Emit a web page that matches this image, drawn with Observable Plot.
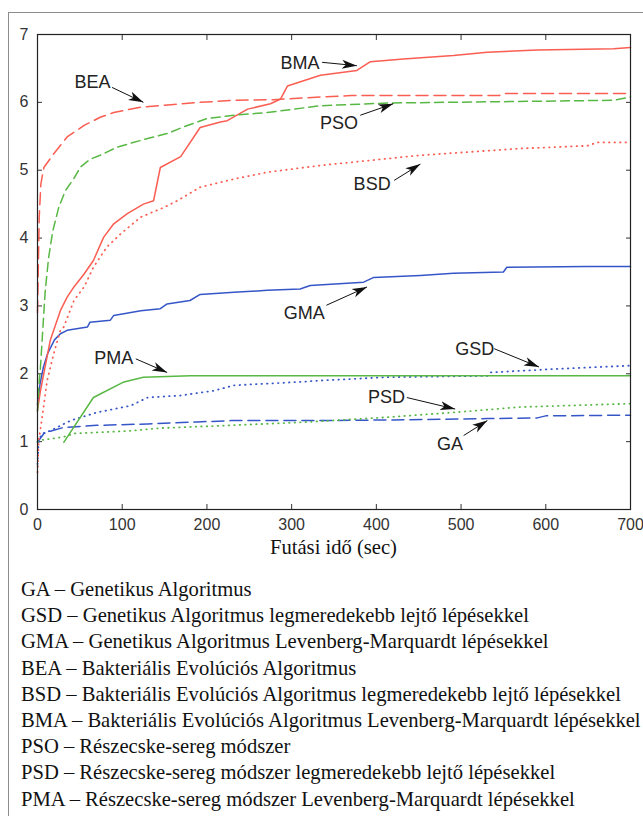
<!DOCTYPE html>
<html>
<head>
<meta charset="utf-8">
<script src="https://cdn.jsdelivr.net/npm/d3@7"></script>
<script src="https://cdn.jsdelivr.net/npm/@observablehq/plot@0.6"></script>
</head>
<body style="margin:0;padding:0;background:#fff;width:643px;height:816px;position:relative;overflow:hidden">
<div id="border" style="position:absolute;left:8px;top:12px;width:700px;height:900px;border:1.5px solid #8c8c8c;box-sizing:border-box"></div>
<div id="chart" style="position:absolute;left:0;top:0"></div>
<div id="xlabel" style="position:absolute;left:37px;width:593px;top:536px;text-align:center;font-family:'Liberation Serif';font-size:20.6px;color:#111"></div>
<div id="legend" style="position:absolute;left:21px;top:576px;font-family:'Liberation Serif';font-size:20.6px;line-height:26.2px;color:#111;white-space:nowrap"></div>
<script>
// ---- data (time in sec, value) ----
const GA  = [[0,0.99],[7.5,1.12],[17,1.16],[31,1.21],[70,1.24],[130,1.26],[189,1.29],[228,1.31],[334,1.31],[420,1.32],[531,1.34],[590,1.35],[600,1.38],[700,1.39]];
const GSD = [[0,0.67],[1.5,1.02],[5.5,1.12],[15,1.16],[39,1.31],[70,1.43],[110,1.53],[130,1.65],[169,1.68],[208,1.75],[232,1.83],[310,1.88],[334,1.9],[413,1.95],[531,1.97],[535,2.02],[610,2.07],[700,2.12]];
const GMA = [[0,1.55],[3,1.85],[7,2.1],[12,2.3],[20,2.5],[27,2.59],[35,2.64],[59,2.69],[62,2.76],[86,2.79],[90,2.86],[122,2.93],[145,2.96],[153,3.03],[180,3.08],[192,3.17],[232,3.2],[271,3.23],[310,3.25],[322,3.3],[385,3.35],[397,3.42],[452,3.45],[491,3.48],[550,3.5],[554,3.57],[649,3.58],[700,3.58]];
const BEA = [[0,2.9],[1,3.6],[2,4.3],[4,4.8],[7.5,5.04],[19,5.24],[35,5.49],[55,5.66],[74,5.78],[90,5.85],[122,5.93],[161,5.97],[192,6.0],[232,6.03],[279,6.04],[334,6.08],[370,6.1],[545,6.1],[550,6.13],[700,6.13]];
const BSD = [[0,0.55],[1.5,1.02],[5.5,1.36],[11.4,1.9],[19,2.29],[27,2.64],[31,2.69],[43,3.08],[55,3.28],[66,3.57],[82,3.87],[98,4.06],[122,4.31],[149,4.45],[165,4.55],[192,4.75],[232,4.87],[271,4.97],[334,5.07],[452,5.22],[570,5.32],[649,5.36],[661,5.41],[700,5.41]];
const BMA = [[0,1.46],[3.5,1.75],[15,2.49],[27,2.93],[35,3.13],[43,3.28],[55,3.47],[66,3.67],[78,4.01],[90,4.21],[106,4.36],[125,4.5],[137,4.55],[145,5.04],[169,5.2],[192,5.63],[216,5.71],[224,5.73],[248,5.9],[275,5.98],[287,6.05],[295,6.24],[334,6.4],[377,6.47],[393,6.6],[432,6.64],[491,6.69],[531,6.74],[590,6.77],[680,6.79],[700,6.81]];
const PSO = [[0,1.45],[1.5,1.8],[3.5,2.1],[6,2.6],[9,3.2],[13,3.7],[18,4.1],[25,4.45],[33,4.7],[43,4.88],[51,5.05],[62,5.16],[74,5.22],[94,5.34],[122,5.44],[153,5.54],[177,5.66],[200,5.76],[232,5.81],[271,5.85],[334,5.95],[413,5.99],[680,6.03],[700,6.08]];
const PSD = [[0,1.0],[3.5,1.02],[31,1.07],[43,1.12],[110,1.16],[145,1.2],[228,1.24],[320,1.29],[413,1.36],[491,1.43],[570,1.51],[700,1.56]];
const PMA = [[31,0.99],[66,1.65],[102,1.88],[125,1.95],[181,1.97],[700,1.97]];

const xTicks = [0,100,200,300,400,500,600,700];
const yTicks = [0,1,2,3,4,5,6,7];

// annotation labels and arrows (data coordinates)
const labelNames = ["BEA","BMA","PSO","BSD","GMA","PMA","GSD","PSD","GA"];
const labelT     = [65, 310, 356, 395, 315, 90, 516, 412, 487];
const labelV     = [6.29, 6.57, 5.69, 4.80, 2.89, 2.23, 2.36, 1.65, 0.96];
const arrowT1 = [88, 336, 381, 421, 341, 116, 539, 436, 503];
const arrowV1 = [6.22, 6.59, 5.81, 4.85, 3.01, 2.22, 2.37, 1.65, 1.09];
const arrowT2 = [125, 377, 420, 452, 389, 153, 592, 493, 531];
const arrowV2 = [6.00, 6.54, 5.98, 5.09, 3.28, 2.02, 2.10, 1.48, 1.31];

const legendLines = [
  "GA – Genetikus Algoritmus",
  "GSD – Genetikus Algoritmus legmeredekebb lejtő lépésekkel",
  "GMA – Genetikus Algoritmus Levenberg-Marquardt lépésekkel",
  "BEA – Bakteriális Evolúciós Algoritmus",
  "BSD – Bakteriális Evolúciós Algoritmus legmeredekebb lejtő lépésekkel",
  "BMA – Bakteriális Evolúciós Algoritmus Levenberg-Marquardt lépésekkel",
  "PSO – Részecske-sereg módszer",
  "PSD – Részecske-sereg módszer legmeredekebb lejtő lépésekkel",
  "PMA – Részecske-sereg módszer Levenberg-Marquardt lépésekkel"
];
const xLabel = "Futási idő (sec)";

// ---- styling ----
const RED = "#fa5e52", GREEN = "#58b844", BLUE = "#3656c8";
const DASH = "9,5", LONGDASH = "12,6", DOT = "0.5,5";
const seriesStyle = [
  {data: GA,  stroke: BLUE,  dash: LONGDASH},
  {data: GSD, stroke: BLUE,  dash: DOT},
  {data: GMA, stroke: BLUE,  dash: null},
  {data: BEA, stroke: RED,   dash: LONGDASH},
  {data: BSD, stroke: RED,   dash: DOT},
  {data: BMA, stroke: RED,   dash: null},
  {data: PSO, stroke: GREEN, dash: DASH},
  {data: PSD, stroke: GREEN, dash: DOT},
  {data: PMA, stroke: GREEN, dash: null}
];

const labels = labelNames.map((n, i) => ({n, t: labelT[i], v: labelV[i]}));
const arrows = labelNames.map((n, i) => ({t1: arrowT1[i], v1: arrowV1[i], t2: arrowT2[i], v2: arrowV2[i]}));

const lineMarks = seriesStyle.map(s => Plot.line(s.data, {
  x: d => d[0], y: d => d[1], stroke: s.stroke, strokeWidth: s.dash === DOT ? 1.8 : 1.5,
  strokeDasharray: s.dash || undefined, strokeLinecap: "round"
}));

const chart = Plot.plot({
  width: 643, height: 560,
  marginLeft: 37, marginRight: 13, marginTop: 34, marginBottom: 51,
  x: {domain: [0, 700]},
  y: {domain: [0, 7]},
  style: {fontFamily: "'Liberation Sans'", fontSize: "16px", color: "#333", background: "transparent", overflow: "visible"},
  marks: [
    Plot.axisX({ticks: xTicks, tickSize: -5, tickPadding: 14, label: null, tickFormat: d => String(d)}),
    Plot.axisX({anchor: "top", ticks: xTicks, tickSize: -5, tickFormat: () => "", label: null}),
    Plot.axisY({ticks: yTicks, tickSize: -5, tickPadding: 14, label: null, tickFormat: d => String(d)}),
    Plot.axisY({anchor: "right", ticks: yTicks, tickSize: -5, tickFormat: () => "", label: null}),
    ...lineMarks,
    Plot.link(arrows, {x1: "t1", y1: "v1", x2: "t2", y2: "v2", stroke: "#111", strokeWidth: 1, markerEnd: "arrow"}),
    Plot.text(labels, {x: "t", y: "v", text: "n", fontSize: 18, fill: "#222", textAnchor: "middle"}),
    Plot.frame({stroke: "#222", strokeWidth: 1.2})
  ]
});

// filled arrowheads
chart.querySelectorAll("marker").forEach(m => {
  m.setAttribute("viewBox", "-15 -6 16 12");
  m.setAttribute("markerWidth", 16);
  m.setAttribute("markerHeight", 12);
  m.setAttribute("markerUnits", "userSpaceOnUse");
  m.setAttribute("fill", "#111");
  m.setAttribute("stroke", "none");
  m.innerHTML = "";
  const p = document.createElementNS("http://www.w3.org/2000/svg", "path");
  p.setAttribute("d", "M-15,-4.5L0,0L-15,4.5L-11,0Z");
  m.appendChild(p);
});

document.getElementById("chart").appendChild(chart);
document.getElementById("xlabel").textContent = xLabel;
const leg = document.getElementById("legend");
legendLines.forEach(t => { const d = document.createElement("div"); d.textContent = t; leg.appendChild(d); });
</script>
</body>
</html>
